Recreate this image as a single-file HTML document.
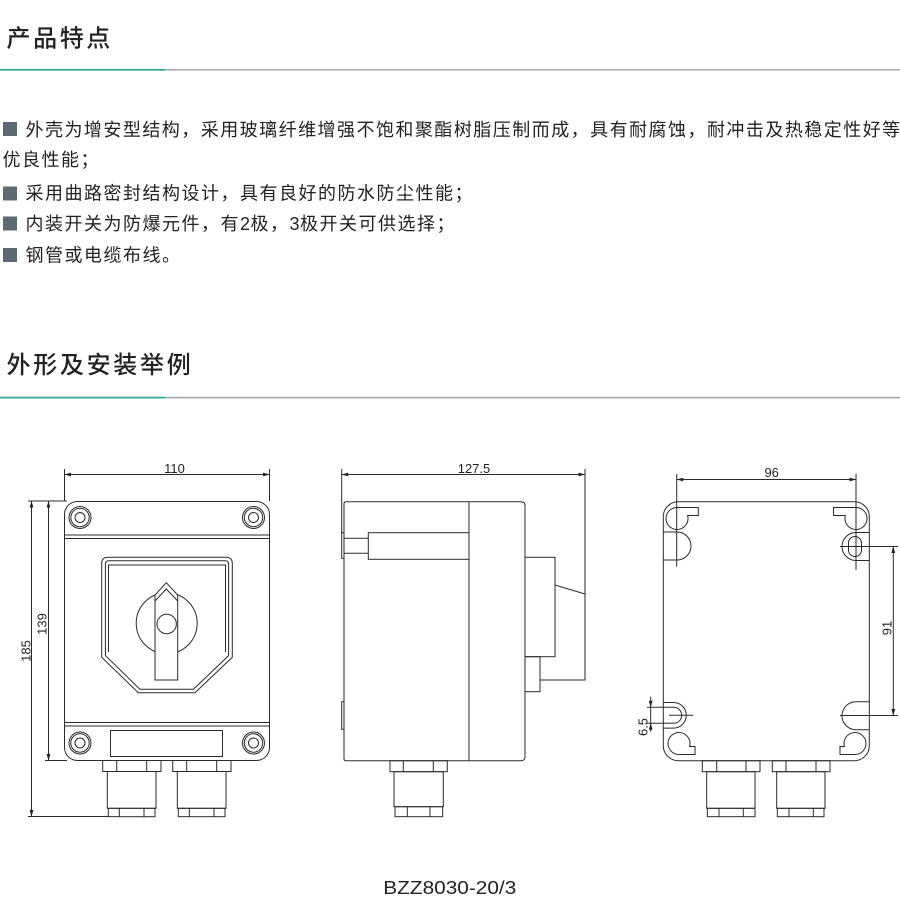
<!DOCTYPE html>
<html><head><meta charset="utf-8">
<style>
html,body{margin:0;padding:0;background:#fff;}
svg{display:block;}
.cj{font-family:"Liberation Sans","Noto Sans CJK SC",sans-serif;}
.dm{font-family:"Liberation Sans",sans-serif;font-size:13px;fill:#222;}
</style></head>
<body>
<svg width="900" height="904" viewBox="0 0 900 904" xmlns="http://www.w3.org/2000/svg">
<rect width="900" height="904" fill="#fff"/>

<!-- Header 1 -->
<text class="cj" x="6.5" y="46.5" font-size="24" font-weight="500" letter-spacing="2.6" fill="#222">产品特点</text>
<rect x="0" y="69" width="900" height="1.6" fill="#a9a9a9"/>
<rect x="0" y="69" width="165" height="1.6" fill="#2fa99d"/>

<!-- Bullets -->
<g fill="#5b6b73">
<rect x="3" y="122" width="14" height="14"/>
<rect x="3" y="186.5" width="14" height="14"/>
<rect x="3" y="216.5" width="14" height="14"/>
<rect x="3" y="248" width="14" height="14"/>
</g>
<g class="cj" font-size="18" fill="#222">
<text x="25.5 44.97 64.44 83.91 103.38 122.85 142.32 161.79 181.26 200.73 220.2 239.67 259.14 278.61 298.08 317.55 337.02 356.49 375.96 395.43 414.9 434.37 453.84 473.31 492.78 512.25 531.72 551.19 570.66 590.13 609.6 629.07 648.54 668.01 687.48 706.95 726.42 745.89 765.36 784.83 804.3 823.77 843.24 862.71 882.18" y="136">外壳为增安型结构，采用玻璃纤维增强不饱和聚酯树脂压制而成，具有耐腐蚀，耐冲击及热稳定性好等</text>
<text x="2.5 22 41.5 61 80.5" y="166">优良性能；</text>
<text x="25.5 45 64.5 84 103.5 123 142.5 162 181.5 201 220.5 240 259.5 279 298.5 318 337.5 357 376.5 396 415.5 435 454.5" y="199.5">采用曲路密封结构设计，具有良好的防水防尘性能；</text>
<text x="25.5 45 64.5 84 103.5 123 142.5 162 181.5 201 220.5 240 250.5 270 289.5 300 319.5 339 358.5 378 397.5 417 436.5" y="230">内装开关为防爆元件，有2极，3极开关可供选择；</text>
<text x="25.5 45 64.5 84 103.5 123 142.5 162" y="261.5">钢管或电缆布线。</text>
</g>

<!-- Header 2 -->
<text class="cj" x="6.5" y="373" font-size="24" font-weight="500" letter-spacing="2.7" fill="#222">外形及安装举例</text>
<rect x="0" y="396.8" width="900" height="1.7" fill="#a9a9a9"/>
<rect x="0" y="396.8" width="165" height="1.7" fill="#2fa99d"/>

<!-- ============ FRONT VIEW ============ -->
<g stroke="#2a2a2a" stroke-width="1" fill="none">
  <line x1="64.5" y1="469" x2="64.5" y2="501"/>
  <line x1="269.5" y1="469" x2="269.5" y2="501"/>
  <line x1="64.5" y1="474.5" x2="269.5" y2="474.5"/>
  <line x1="28" y1="501" x2="67" y2="501"/>
  <line x1="28" y1="816.5" x2="108" y2="816.5"/>
  <line x1="31.5" y1="501" x2="31.5" y2="816.5"/>
  <line x1="45" y1="760.5" x2="67" y2="760.5"/>
  <line x1="48.5" y1="501" x2="48.5" y2="760.5"/>

  <rect x="64.5" y="501.5" width="205" height="259" rx="13"/>
  <line x1="64.5" y1="535" x2="269.5" y2="535"/>
  <line x1="64.5" y1="538.5" x2="269.5" y2="538.5"/>
  <line x1="64.5" y1="722.5" x2="269.5" y2="722.5"/>
  <line x1="64.5" y1="726" x2="269.5" y2="726"/>
  <circle cx="80" cy="517.5" r="11"/><circle cx="80" cy="517.5" r="9.2"/><circle cx="80" cy="517.5" r="5"/>
  <circle cx="253.5" cy="517.5" r="11"/><circle cx="253.5" cy="517.5" r="9.2"/><circle cx="253.5" cy="517.5" r="5"/>
  <circle cx="80" cy="743" r="11"/><circle cx="80" cy="743" r="9.2"/><circle cx="80" cy="743" r="5"/>
  <circle cx="253.5" cy="743" r="11"/><circle cx="253.5" cy="743" r="9.2"/><circle cx="253.5" cy="743" r="5"/>
  <rect x="110.5" y="730.5" width="112" height="26"/>
  <path d="M101.7,657.3 V563.5 Q101.7,557.3 108,557.3 H226 Q232.3,557.3 232.3,563.5 V657.3 L195,692.7 H138.3 Z"/>
  <path d="M105.4,655.6 V564.2 Q105.4,560.8 108.7,560.8 H225.3 Q228.6,560.8 228.6,564.2 V655.6 L193.4,689.2 H139.9 Z"/>
  <path d="M108.5,652 V565 H225.5 V652"/>
  <circle cx="166.7" cy="623.3" r="30.5"/>
  <polygon points="155,680 155,595 166.3,582.7 177.7,595 177.7,680" fill="#fff"/>
  <polyline points="155,601 166.3,589 177.7,601"/>
  <circle cx="166.7" cy="624" r="9.7"/>

  <rect x="102.7" y="760.5" width="58.3" height="11"/>
  <line x1="116.7" y1="760.5" x2="116.7" y2="771.5"/><line x1="146.7" y1="760.5" x2="146.7" y2="771.5"/>
  <rect x="107.3" y="771.5" width="48.7" height="36.8"/>
  <rect x="108.3" y="808.3" width="46.7" height="8.4"/>
  <line x1="119.3" y1="808.3" x2="119.3" y2="816.7"/><line x1="144" y1="808.3" x2="144" y2="816.7"/>

  <rect x="172.7" y="760.5" width="58.3" height="11"/>
  <line x1="186.7" y1="760.5" x2="186.7" y2="771.5"/><line x1="216.7" y1="760.5" x2="216.7" y2="771.5"/>
  <rect x="177.3" y="771.5" width="48.7" height="36.8"/>
  <rect x="178.3" y="808.3" width="46.7" height="8.4"/>
  <line x1="189.3" y1="808.3" x2="189.3" y2="816.7"/><line x1="214" y1="808.3" x2="214" y2="816.7"/>
</g>
<g fill="#222">
  <polygon points="64.5,474.5 71,472.6 71,476.4"/>
  <polygon points="269.5,474.5 263,472.6 263,476.4"/>
  <polygon points="31.5,501 29.6,507.5 33.4,507.5"/>
  <polygon points="31.5,816.5 29.6,810 33.4,810"/>
  <polygon points="48.5,501 46.6,507.5 50.4,507.5"/>
  <polygon points="48.5,760.5 46.6,754 50.4,754"/>
</g>
<text class="dm" x="174.5" y="473" text-anchor="middle">110</text>
<text class="dm" transform="translate(30.5,651) rotate(-90)" text-anchor="middle">185</text>
<text class="dm" transform="translate(46.5,624) rotate(-90)" text-anchor="middle">139</text>

<!-- ============ SIDE VIEW ============ -->
<g stroke="#2a2a2a" stroke-width="1" fill="none">
  <line x1="341.7" y1="469" x2="341.7" y2="533"/>
  <line x1="585" y1="469" x2="585" y2="680"/>
  <line x1="341.7" y1="474.5" x2="585" y2="474.5"/>
  <path d="M346,501.7 H521 Q525,501.7 525,505.7 V756.7 Q525,760.7 521,760.7 H346 Q344,760.7 344,758.7 V503.7 Q344,501.7 346,501.7 Z"/>
  <line x1="469" y1="501.7" x2="469" y2="760.7"/>
  <rect x="341.7" y="532.7" width="2.3" height="25.6"/>
  <rect x="341.7" y="701.7" width="2.3" height="27.6"/>
  <rect x="368.3" y="532.7" width="100.7" height="26.6"/>
  <line x1="344" y1="538.3" x2="368.3" y2="538.3"/>
  <line x1="344" y1="553.3" x2="368.3" y2="553.3"/>
  <rect x="525" y="557.3" width="30" height="99.4"/>
  <polyline points="555,585 585,594 585,680 540,680"/>
  <rect x="525" y="656.7" width="15" height="35"/>
  <rect x="390" y="760.7" width="57.3" height="11"/>
  <line x1="403.3" y1="760.7" x2="403.3" y2="771.7"/><line x1="433.3" y1="760.7" x2="433.3" y2="771.7"/>
  <rect x="394" y="771.7" width="49.3" height="35"/>
  <rect x="395" y="806.7" width="47.7" height="10"/>
  <line x1="407.3" y1="806.7" x2="407.3" y2="816.7"/><line x1="430" y1="806.7" x2="430" y2="816.7"/>
</g>
<g fill="#222">
  <polygon points="341.7,474.5 348.2,472.6 348.2,476.4"/>
  <polygon points="585,474.5 578.5,472.6 578.5,476.4"/>
</g>
<text class="dm" x="474" y="473" text-anchor="middle">127.5</text>

<!-- ============ BACK VIEW ============ -->
<g stroke="#2a2a2a" stroke-width="1" fill="none">
  <line x1="676.7" y1="474" x2="676.7" y2="566.7"/>
  <line x1="856" y1="474" x2="856" y2="570"/>
  <line x1="676.7" y1="479.5" x2="856" y2="479.5"/>
  <rect x="663.3" y="501.7" width="206" height="259" rx="15"/>
  <path d="M677,507.5 H698.3 V515.5 H687.6 A11,11 0 1 1 677,507.5 Z"/>
  <path d="M663.3,532 H677 A14,14 0 0 1 677,560 H663.3"/>
  <path d="M856,507.5 H833.5 V515.5 H845.4 A11,11 0 1 0 856,507.5 Z"/>
  <path d="M869.3,532.5 H856 A14,14 0 0 0 856,560.5 H869.3"/>
  <rect x="848.5" y="536.5" width="13" height="20" rx="6.5"/>
  <line x1="840" y1="546.5" x2="898" y2="546.5"/>
  <path d="M663.3,702.5 H673.5 A12.8,12.8 0 0 1 673.5,728.1 H663.3"/>
  <path d="M647,707.3 H673.7 A8,8 0 0 1 673.7,723.3 H647"/>
  <line x1="669" y1="715.3" x2="693" y2="715.3"/>
  <line x1="650.7" y1="696.7" x2="650.7" y2="731.7"/>
  <path d="M679,754.5 H695 V746.5 H689.6 A11,11 0 1 0 679,754.5 Z"/>
  <path d="M869.3,701.7 H856 A14,14 0 0 0 856,729.7 H869.3"/>
  <line x1="840" y1="715.5" x2="898" y2="715.5"/>
  <path d="M855,754.5 H840 V746.5 H844.4 A11,11 0 1 1 855,754.5 Z"/>
  <line x1="893.3" y1="546.5" x2="893.3" y2="715.5"/>
  <rect x="702.3" y="760.7" width="57.7" height="11"/>
  <line x1="716.7" y1="760.7" x2="716.7" y2="771.7"/><line x1="746" y1="760.7" x2="746" y2="771.7"/>
  <rect x="706.7" y="771.7" width="48.3" height="36.6"/>
  <rect x="707.3" y="808.3" width="47.7" height="8.4"/>
  <line x1="719" y1="808.3" x2="719" y2="816.7"/><line x1="743.3" y1="808.3" x2="743.3" y2="816.7"/>

  <rect x="772.3" y="760.7" width="57.7" height="11"/>
  <line x1="786" y1="760.7" x2="786" y2="771.7"/><line x1="816" y1="760.7" x2="816" y2="771.7"/>
  <rect x="776.7" y="771.7" width="48.3" height="36.6"/>
  <rect x="777.3" y="808.3" width="46.7" height="8.4"/>
  <line x1="789" y1="808.3" x2="789" y2="816.7"/><line x1="813.3" y1="808.3" x2="813.3" y2="816.7"/>
</g>
<g fill="#222">
  <polygon points="676.7,479.5 683.2,477.6 683.2,481.4"/>
  <polygon points="856,479.5 849.5,477.6 849.5,481.4"/>
  <polygon points="893.3,546.5 891.4,553 895.2,553"/>
  <polygon points="893.3,715.5 891.4,709 895.2,709"/>
  <polygon points="650.7,707.3 648.8,700.8 652.6,700.8"/>
  <polygon points="650.7,723.3 648.8,729.8 652.6,729.8"/>
</g>
<text class="dm" x="771.7" y="477" text-anchor="middle">96</text>
<text class="dm" transform="translate(891.5,628) rotate(-90)" text-anchor="middle">91</text>
<text class="dm" transform="translate(647.5,727) rotate(-90)" text-anchor="middle">6.5</text>

<!-- caption -->
<text x="383.3" y="894" font-family="Liberation Sans, sans-serif" font-size="18" fill="#222" textLength="133" lengthAdjust="spacingAndGlyphs">BZZ8030-20/3</text>
</svg>
</body></html>
